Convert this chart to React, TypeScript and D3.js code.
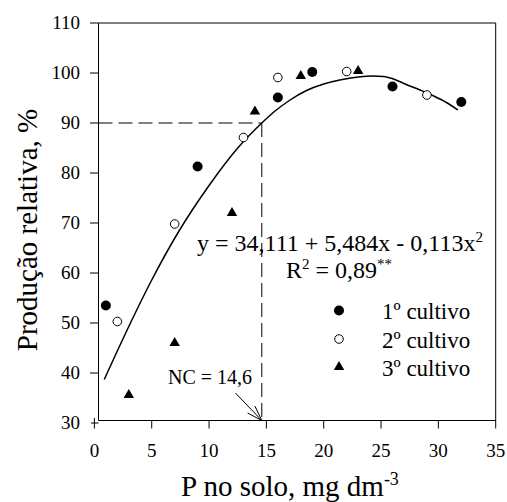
import React from 'react';
import * as d3 from 'd3';

// ---- data ----
const xTicks = [0, 5, 10, 15, 20, 25, 30, 35];
const yTicks = [30, 40, 50, 60, 70, 80, 90, 100, 110];

const cultivo1X = [1, 9, 16, 19, 26, 32];
const cultivo1Y = [53.5, 81.3, 95.1, 100.2, 97.3, 94.2];

const cultivo2X = [2, 7, 13, 16, 22, 29];
const cultivo2Y = [50.3, 69.8, 87.1, 99.1, 100.3, 95.6];

const cultivo3X = [3, 7, 12, 14, 18, 23];
const cultivo3Y = [35.6, 46, 72, 92.3, 99.4, 100.4];

// fitted curve as drawn
const curveX = [0.86, 3, 5, 7.3, 10, 12.5, 14.6, 15.6, 17, 18.5, 20, 21.4, 23, 24.3, 25.2, 26.2, 27.2, 28.4, 29.6, 30.7, 31.7];
const curveY = [38.7, 49.3, 58.6, 68.1, 77.5, 85, 90, 92.1, 94.5, 96.5, 97.8, 98.6, 99.2, 99.4, 99.3, 98.7, 97.7, 96.6, 95.4, 94.1, 92.6];

const legendLabels = ['1º cultivo', '2º cultivo', '3º cultivo'];
const ncValue = 14.6;
const ncLevel = 90;
const ncArrowFrom = [12.3, 36];

export default function App() {
  const W = 507, H = 502;
  const x = d3.scaleLinear().domain([0, 35]).range([94.4, 495.7]);
  const y = d3.scaleLinear().domain([30, 110]).range([423, 23]);
  const left = 98.5, bottom = 420.5, right = x(35), top = y(110);

  const line = d3.line<number>()
    .x((_, i) => x(curveX[i]))
    .y((d) => y(d))
    .curve(d3.curveMonotoneX);

  const tri = d3.symbol().type(d3.symbolTriangle).size(48)();

  const tip = [x(ncValue), bottom];
  const tail = [x(ncArrowFrom[0]), y(ncArrowFrom[1])];
  const ang = Math.atan2(tip[1] - tail[1], tip[0] - tail[0]);
  const headLen = 16, headAng = 0.32;
  const h1 = [tip[0] - headLen * Math.cos(ang - headAng), tip[1] - headLen * Math.sin(ang - headAng)];
  const h2 = [tip[0] - headLen * Math.cos(ang + headAng), tip[1] - headLen * Math.sin(ang + headAng)];

  const legendX = 339;
  const legendY = [310.5, 339, 367];
  const legendTextX = 382;
  const ts = { fontFamily: '"Liberation Serif"' };

  return (
    <svg width={W} height={H} style={{ position: 'absolute', left: 0, top: 0, background: '#fff' }}>
      <style>{`svg text, svg tspan { font-family: "Liberation Serif", "Times New Roman", serif !important; }`}</style>
      <rect x={0} y={0} width={W} height={H} fill="#fff" />
      {/* frame */}
      <line x1={left} x2={left} y1={top} y2={bottom} stroke="#000" strokeWidth={1} />
      <line x1={left} x2={right} y1={bottom} y2={bottom} stroke="#000" strokeWidth={1} />
      <line x1={left} x2={right} y1={top} y2={top} stroke="#000" strokeWidth={1} />
      <line x1={right} x2={right} y1={top} y2={bottom} stroke="#000" strokeWidth={1} />

      {/* y ticks */}
      {yTicks.map((t) => (
        <g key={'y' + t}>
          <line x1={t === 30 ? 91 : 90} x2={left} y1={y(t)} y2={y(t)} stroke="#000" strokeWidth={1} />
          <text x={80} y={y(t)} dy="0.34em" textAnchor="end" fontSize={19} style={ts}>{t}</text>
        </g>
      ))}
      {/* x ticks */}
      {xTicks.map((t) => (
        <g key={'x' + t}>
          <line x1={x(t)} x2={x(t)} y1={t === 0 ? 418 : bottom} y2={bottom + 8} stroke="#000" strokeWidth={1} />
          <text x={x(t)} y={457} textAnchor="middle" fontSize={19} style={ts}>{t}</text>
        </g>
      ))}

      {/* dashed reference lines */}
      <line x1={left} x2={x(ncValue)} y1={y(ncLevel)} y2={y(ncLevel)} stroke="#000" strokeWidth={1} strokeDasharray="14,6" />
      <line x1={x(ncValue)} x2={x(ncValue)} y1={y(ncLevel)} y2={bottom} stroke="#000" strokeWidth={1} strokeDasharray="14,6" />

      {/* fitted curve */}
      <path d={line(curveY) || ''} fill="none" stroke="#000" strokeWidth={1.5} />

      {/* points */}
      {cultivo1X.map((v, i) => (
        <circle key={'a' + i} cx={x(v)} cy={y(cultivo1Y[i])} r={5} fill="#000" />
      ))}
      {cultivo2X.map((v, i) => (
        <circle key={'b' + i} cx={x(v)} cy={y(cultivo2Y[i])} r={4.3} fill="#fff" stroke="#000" strokeWidth={1} />
      ))}
      {cultivo3X.map((v, i) => (
        <path key={'c' + i} d={tri || ''} transform={`translate(${x(v)},${y(cultivo3Y[i])})`} fill="#000" />
      ))}

      {/* NC annotation */}
      <text x={168} y={384} fontSize={20} style={ts}>NC = 14,6</text>
      <line x1={tail[0]} y1={tail[1]} x2={tip[0]} y2={tip[1]} stroke="#000" strokeWidth={1} />
      <line x1={h1[0]} y1={h1[1]} x2={tip[0]} y2={tip[1]} stroke="#000" strokeWidth={1} />
      <line x1={h2[0]} y1={h2[1]} x2={tip[0]} y2={tip[1]} stroke="#000" strokeWidth={1} />

      {/* equation */}
      <text x={340} y={251} textAnchor="middle" fontSize={24} style={ts}>
        y = 34,111 + 5,484x - 0,113x<tspan dy={-9} fontSize={15}>2</tspan>
      </text>
      <text x={339} y={278} textAnchor="middle" fontSize={24} style={ts}>
        R<tspan dy={-9} fontSize={15}>2</tspan><tspan dy={9}> = 0,89</tspan><tspan dy={-9} fontSize={15}>**</tspan>
      </text>

      {/* legend */}
      <circle cx={legendX} cy={legendY[0]} r={5} fill="#000" />
      <circle cx={legendX} cy={legendY[1]} r={4.3} fill="#fff" stroke="#000" strokeWidth={1} />
      <path d={tri || ''} transform={`translate(${legendX},${legendY[2]})`} fill="#000" />
      {legendLabels.map((l, i) => (
        <text key={l} x={legendTextX} y={legendY[i] + 8.5} fontSize={23} style={ts}>{l}</text>
      ))}

      {/* axis titles */}
      <text x={290} y={496} textAnchor="middle" fontSize={29} style={ts}>
        P no solo, mg dm<tspan dy={-11} fontSize={18}>-3</tspan>
      </text>
      <text transform="translate(37,230) rotate(-90)" textAnchor="middle" fontSize={29} style={ts}>Produção relativa, %</text>
    </svg>
  );
}
